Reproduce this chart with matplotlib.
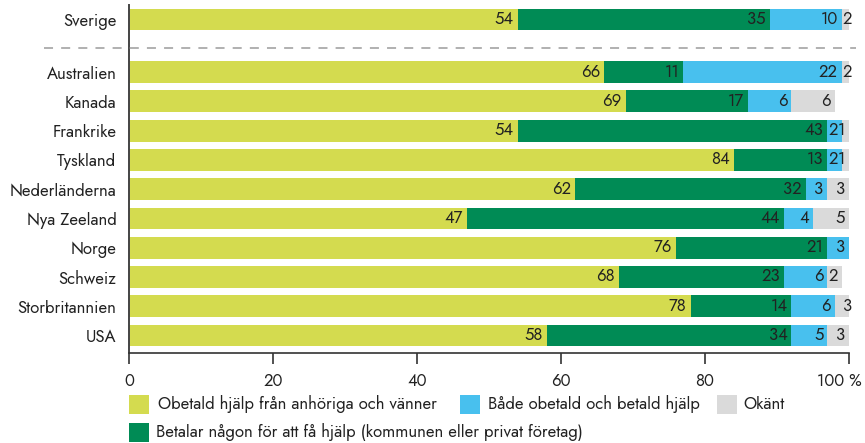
import numpy as np
import matplotlib
matplotlib.use('Agg')
import matplotlib.pyplot as plt
from matplotlib.patches import Rectangle
from matplotlib.lines import Line2D
from matplotlib.transforms import ScaledTranslation

countries = ['Sverige', 'Australien', 'Kanada', 'Frankrike', 'Tyskland',
             'Nederländerna', 'Nya Zeeland', 'Norge', 'Schweiz',
             'Storbritannien', 'USA']
obetald = [54, 66, 69, 54, 84, 62, 47, 76, 68, 78, 58]
betalar = [35, 11, 17, 43, 13, 32, 44, 21, 23, 14, 34]
bade = [10, 22, 6, 2, 2, 3, 4, 3, 6, 6, 5]
okant = [2, 2, 6, 1, 1, 3, 5, 1, 2, 3, 3]
# Norge's "okänt" share is not printed on its bar
unlabelled = {('Norge', 3)}

series_names = ['Obetald hjälp från anhöriga och vänner',
                'Betalar någon för att få hjälp (kommunen eller privat företag)',
                'Både obetald och betald hjälp',
                'Okänt']
colors = ['#D4DB4F', '#008B55', '#48C0EE', '#DADADA']
xticks = [0, 20, 40, 60, 80, 100]

plt.rcParams['font.family'] = ['Jost', 'DejaVu Sans']
fs = 12
txt = '#222222'
fig = plt.figure(figsize=(8.65, 4.43), dpi=100)
ax = fig.add_axes([0.149, 0.203, 0.8325, 0.786])

# Sverige sits above the others, split off by a dashed line
ypos = np.array([10.8] + list(range(9, -1, -1)), dtype=float)
data = [obetald, betalar, bade, okant]
left = np.zeros(len(countries))
nudge = ScaledTranslation(-4 / 100, 0, fig.dpi_scale_trans)
for si, vals in enumerate(data):
    vals = np.array(vals, dtype=float)
    ax.barh(ypos, vals, left=left, height=0.75, color=colors[si], linewidth=0)
    for i, v in enumerate(vals):
        if (countries[i], si) in unlabelled:
            continue
        ax.text(left[i] + v, ypos[i], '%d' % v, ha='right', va='center',
                fontsize=fs, color=txt, transform=ax.transData + nudge)
    left += vals

ax.set_xlim(0, 100)
ax.set_ylim(-0.6, 11.3)
ax.set_yticks(ypos)
ax.set_yticklabels(countries, fontsize=fs, color=txt)
ax.tick_params(axis='y', length=0, pad=9)
ax.set_xticks(xticks)
ax.set_xticklabels([str(t) for t in xticks[:-1]] + ['100 %'], fontsize=fs,
                   color=txt)
ax.tick_params(axis='x', length=8, width=1.2, color='#333333', pad=6)
last = ax.get_xticklabels()[-1]
last.set_transform(last.get_transform() +
                   ScaledTranslation(-10 / 100, 0, fig.dpi_scale_trans))
for s in ['top', 'right']:
    ax.spines[s].set_visible(False)
ax.spines['left'].set_color('#444444')
ax.spines['left'].set_linewidth(1.4)
ax.spines['bottom'].set_color('#333333')
ax.spines['bottom'].set_linewidth(1.2)

fig.add_artist(Line2D([0.051, 0.99], [0.892, 0.892], color='#aaaaaa',
                      linestyle=(0, (5, 4.5)), linewidth=1.3))

# legend drawn by hand, two rows
legend_items = [(0, 0.149, 0.0655, 0.1827),
                (2, 0.532, 0.0655, 0.564),
                (3, 0.829, 0.0655, 0.859),
                (1, 0.149, 0.0023, 0.1800)]
for si, x, y, tx in legend_items:
    fig.add_artist(Rectangle((x, y), 0.0231, 0.0429, transform=fig.transFigure,
                             color=colors[si], linewidth=0))
    fig.text(tx, y + 0.0215, series_names[si], ha='left', va='center',
             fontsize=fs, color=txt)

fig.savefig('out.png', dpi=100)
